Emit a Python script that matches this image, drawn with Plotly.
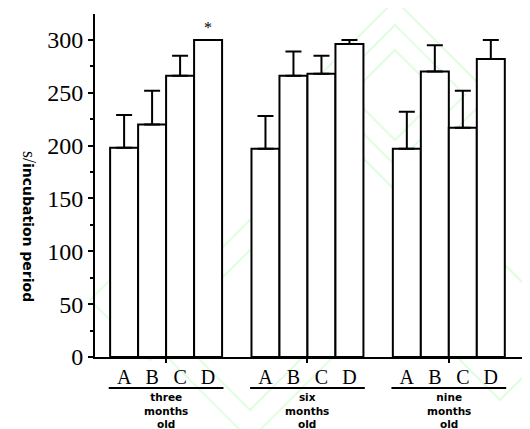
import plotly.graph_objects as go

# incubation period (s) per group, bars A-D
letters = ["A", "B", "C", "D"]
groups = ["three<br>months<br>old", "six<br>months<br>old", "nine<br>months<br>old"]
values = [
    [198, 220, 266, 300],
    [197, 266, 268, 296],
    [197, 270, 217, 282],
]
errors = [
    [31, 32, 19, 0],
    [31, 23, 17, 4],
    [35, 25, 35, 18],
]
marks = [
    ["", "", "", "*"],
    ["", "", "", ""],
    ["", "", "", ""],
]

group_step = 5.05

fig = go.Figure()

xs, ys, es, tv, tt = [], [], [], [], []
for g in range(len(groups)):
    for i, l in enumerate(letters):
        x = g * group_step + i
        xs.append(x)
        ys.append(values[g][i])
        es.append(errors[g][i])
        tv.append(x)
        tt.append(l)

fig.add_trace(go.Bar(
    x=xs, y=ys, width=1,
    marker=dict(color="white", line=dict(color="black", width=2)),
    error_y=dict(type="data", array=es, arrayminus=[0] * len(es), symmetric=False,
                 color="black", thickness=2, width=8),
    showlegend=False,
))

# invisible trace on second x axis, only to draw the group-centre ticks
centers = [g * group_step + 1.5 for g in range(len(groups))]
fig.add_trace(go.Scatter(x=centers, y=[0] * len(centers), xaxis="x2",
                         mode="markers", marker=dict(opacity=0), showlegend=False,
                         hoverinfo="skip"))

xr = [-1.04, 14.25]
# page body has an 8px margin, so the figure is 8px smaller and margins shifted
fig.update_layout(
    width=522, height=421,
    margin=dict(l=87, r=7, t=6, b=72),
    paper_bgcolor="white", plot_bgcolor="rgba(0,0,0,0)",
    xaxis=dict(range=xr, tickvals=tv, ticktext=tt, ticks="", showgrid=False,
               zeroline=False, showline=True, linecolor="black", linewidth=2,
               tickfont=dict(family="Liberation Serif", size=20, color="black"),
               ticklabelstandoff=1),
    xaxis2=dict(range=xr, overlaying="x", anchor="y", side="bottom",
                tickvals=centers, showticklabels=False, ticks="outside",
                ticklen=5, tickwidth=1.5, tickcolor="black", showgrid=False,
                zeroline=False, showline=False),
    yaxis=dict(range=[0, 324.5], tickvals=[0, 50, 100, 150, 200, 250, 300],
               ticks="outside", ticklen=5, tickwidth=2, tickcolor="black",
               showgrid=False, zeroline=False, showline=True, linecolor="black",
               linewidth=2,
               tickfont=dict(family="Liberation Serif", size=24, color="black"),
               minor=dict(dtick=25, ticks="outside", ticklen=3, tickwidth=1.5,
                          tickcolor="black", showgrid=False)),
)

# faint watermark diamonds in the background
def px(xp, yp):
    return (xp - 95) / 428, (357 - yp) / 343

shapes = []
for cx, cy, r in [(395, 95, 95), (395, 95, 70), (395, 95, 45), (250, 330, 110),
                  (250, 330, 80), (500, 330, 70), (150, 300, 60)]:
    pts = [px(cx, cy - r), px(cx + r, cy), px(cx, cy + r), px(cx - r, cy)]
    path = "M " + " L ".join(f"{a},{b}" for a, b in pts) + " Z"
    shapes.append(dict(type="path", path=path, xref="paper", yref="paper",
                       line=dict(color="rgba(120,240,120,0.22)", width=2),
                       layer="below"))

# group underlines
for g in range(len(groups)):
    shapes.append(dict(type="line", xref="x", yref="paper",
                       x0=g * group_step - 0.55, x1=g * group_step + 3.55,
                       y0=-0.0904, y1=-0.0904,
                       line=dict(color="black", width=2)))
fig.update_layout(shapes=shapes)

anns = []
for g, name in enumerate(groups):
    anns.append(dict(x=centers[g], xref="x", y=-0.097, yref="paper",
                     text=f"<b>{name}</b>", showarrow=False, yanchor="top",
                     xanchor="center", borderpad=0,
                     font=dict(family="DejaVu Sans", size=10.5, color="black")))
    for i, m in enumerate(marks[g]):
        if m:
            anns.append(dict(x=g * group_step + i, y=values[g][i] + errors[g][i],
                             text=m, showarrow=False, yanchor="bottom", yshift=2,
                             font=dict(family="Liberation Serif", size=16, color="black")))

anns.append(dict(x=-0.154, y=0.382, xref="paper", yref="paper", textangle=90,
                 showarrow=False, xanchor="center", yanchor="middle",
                 text="<span style='font-family:Liberation Serif;font-size:18px'>s/</span>"
                      "<b>incubation period</b>",
                 font=dict(family="DejaVu Sans", size=14, color="black")))
fig.update_layout(annotations=anns)

fig.write_html("out.html")
